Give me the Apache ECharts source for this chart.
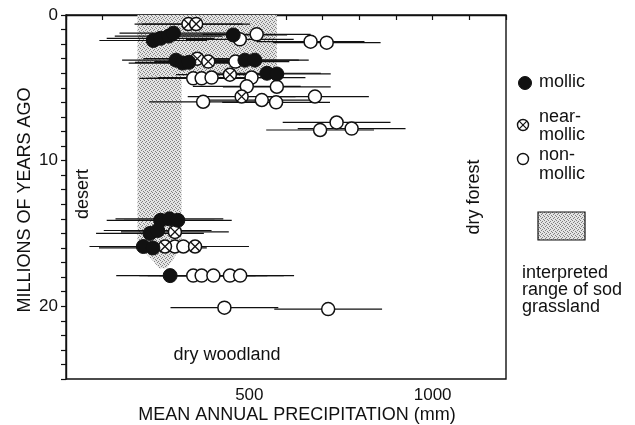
<!DOCTYPE html>
<html>
<head>
<meta charset="utf-8">
<script src="https://cdn.jsdelivr.net/npm/echarts@6/dist/echarts.min.js"></script>
<style>
  html, body { margin: 0; padding: 0; background: #fff; }
  #chart { width: 635px; height: 425px; }
</style>
</head>
<body>
<div id="chart"></div>
<script>
// ---- Data (mean annual precipitation in mm, age in millions of years) ----
const mollicX = [238, 258, 280, 293, 456, 300, 318, 335, 488, 515, 548, 575, 258, 282, 305, 229, 250, 211, 237, 284];
const mollicY = [1.75, 1.6, 1.45, 1.25, 1.37, 3.1, 3.3, 3.25, 3.1, 3.1, 4.0, 4.05, 14.1, 14.0, 14.1, 15.0, 14.8, 15.9, 16.0, 17.9];

const nearX = [334, 355, 358, 388, 447, 479, 297, 270, 352];
const nearY = [0.62, 0.62, 3.0, 3.2, 4.1, 5.6, 14.9, 15.9, 15.9];

const nonX = [474, 520, 667, 711, 462, 347, 370, 397, 506, 493, 575, 374, 534, 573, 679, 738, 693, 779, 297, 320, 347, 370, 402, 447, 475, 432, 715];
const nonY = [1.67, 1.33, 1.83, 1.9, 3.2, 4.35, 4.35, 4.3, 4.3, 4.9, 4.93, 5.96, 5.84, 6.0, 5.6, 7.38, 7.9, 7.8, 15.9, 15.9, 17.9, 17.9, 17.9, 17.9, 17.9, 20.1, 20.2];

// half-width of each precipitation error bar (mm)
const errorHalfWidth = 147;

// interpreted range of sod grassland (polygon vertices)
const shadeX = [195, 575, 575, 315, 315, 292, 274, 255, 234, 195];
const shadeY = [0, 0, 4.2, 4.2, 15.8, 16.8, 17.4, 17.4, 16.8, 15.8];

const xTickLabels = [500, 1000];
const yTickLabels = [0, 10, 20];

// ---- Build ----
const FONT = "'Liberation Sans', Arial, Helvetica, sans-serif";
const INK = '#111';

function zip(xs, ys) { return xs.map((x, i) => [x, ys[i]]); }
const mollic = zip(mollicX, mollicY);
const near = zip(nearX, nearY);
const non = zip(nonX, nonY);
const allPts = mollic.concat(near, non);

function stipple() {
  const c = document.createElement('canvas');
  c.width = 4; c.height = 4;
  const g = c.getContext('2d');
  g.fillStyle = '#e4e4e4'; g.fillRect(0, 0, 4, 4);
  g.fillStyle = '#808080';
  [[0,0],[2,1],[1,2],[3,3]].forEach(p => g.fillRect(p[0], p[1], 1, 1));
  return c;
}
const stippleCanvas = stipple();

const chart = echarts.init(document.getElementById('chart'), null, { renderer: 'canvas' });

const option = {
  animation: false,
  backgroundColor: '#fff',
  grid: { left: 66, right: 129, top: 15, bottom: 46, show: true, borderColor: INK, borderWidth: 1.4, backgroundColor: 'transparent' },
  xAxis: {
    type: 'value', min: 0, max: 1200, interval: 100,
    axisLine: { show: true, lineStyle: { color: INK, width: 1.4 } },
    axisTick: { show: true, length: 5, lineStyle: { color: INK, width: 1.2 } },
    splitLine: { show: false },
    axisLabel: {
      color: INK, fontSize: 17, fontFamily: FONT, margin: 8,
      formatter: v => xTickLabels.includes(v) ? String(v) : ''
    }
  },
  yAxis: {
    type: 'value', min: 0, max: 25, interval: 1, inverse: true,
    axisLine: { show: true, lineStyle: { color: INK, width: 1.4 } },
    axisTick: { show: true, length: 5, lineStyle: { color: INK, width: 1.2 } },
    splitLine: { show: false },
    axisLabel: {
      color: INK, fontSize: 17, fontFamily: FONT, margin: 8,
      formatter: v => yTickLabels.includes(v) ? String(v) : ''
    }
  },
  series: [
    {
      type: 'custom', name: 'sod grassland', z: 1, silent: true,
      data: [[0, 0]],
      renderItem: function (params, api) {
        const pts = shadeX.map((x, i) => api.coord([x, shadeY[i]]));
        return { type: 'polygon', shape: { points: pts }, style: { fill: { image: stippleCanvas, repeat: 'repeat' }, stroke: null } };
      }
    },
    {
      type: 'custom', name: 'error bars', z: 2, silent: true,
      data: allPts,
      renderItem: function (params, api) {
        const x = api.value(0), y = api.value(1);
        const a = api.coord([x - errorHalfWidth, y]);
        const b = api.coord([x + errorHalfWidth, y]);
        return { type: 'line', shape: { x1: a[0], y1: a[1], x2: b[0], y2: b[1] }, style: { stroke: INK, lineWidth: 1.2 } };
      }
    },
    {
      type: 'scatter', name: 'non-mollic', z: 3, data: non, symbol: 'circle', symbolSize: 13,
      itemStyle: { color: '#fff', borderColor: INK, borderWidth: 1.5, opacity: 1 }
    },
    {
      type: 'custom', name: 'near-mollic', z: 4, data: near,
      renderItem: function (params, api) {
        const p = api.coord([api.value(0), api.value(1)]);
        const r = 6.5, d = r * 0.7;
        return { type: 'group', children: [
          { type: 'circle', shape: { cx: p[0], cy: p[1], r: r }, style: { fill: '#fff', stroke: INK, lineWidth: 1.5 } },
          { type: 'line', shape: { x1: p[0]-d, y1: p[1]-d, x2: p[0]+d, y2: p[1]+d }, style: { stroke: INK, lineWidth: 1.3 } },
          { type: 'line', shape: { x1: p[0]-d, y1: p[1]+d, x2: p[0]+d, y2: p[1]-d }, style: { stroke: INK, lineWidth: 1.3 } }
        ] };
      }
    },
    {
      type: 'scatter', name: 'mollic', z: 5, data: mollic, symbol: 'circle', symbolSize: 14,
      itemStyle: { color: INK, borderColor: INK, borderWidth: 1, opacity: 1 }
    }
  ],
  graphic: [
    // axis titles
    { type: 'text', x: 297, y: 415, style: { text: 'MEAN ANNUAL PRECIPITATION (mm)', font: '18px ' + FONT, fill: INK, textAlign: 'center', textVerticalAlign: 'middle' } },
    { type: 'text', x: 25, y: 200, rotation: Math.PI / 2, style: { text: 'MILLIONS OF YEARS AGO', font: '18px ' + FONT, fill: INK, textAlign: 'center', textVerticalAlign: 'middle' } },
    // region annotations
    { type: 'text', x: 83, y: 194, rotation: Math.PI / 2, style: { text: 'desert', font: '18px ' + FONT, fill: INK, textAlign: 'center', textVerticalAlign: 'middle' } },
    { type: 'text', x: 474, y: 197, rotation: Math.PI / 2, style: { text: 'dry forest', font: '18px ' + FONT, fill: INK, textAlign: 'center', textVerticalAlign: 'middle' } },
    { type: 'text', x: 227, y: 355, style: { text: 'dry woodland', font: '18px ' + FONT, fill: INK, textAlign: 'center', textVerticalAlign: 'middle' } },
    // legend
    { type: 'circle', shape: { cx: 525, cy: 83, r: 6.5 }, style: { fill: INK, stroke: INK } },
    { type: 'text', x: 539, y: 82, style: { text: 'mollic', font: '18px ' + FONT, fill: INK, textVerticalAlign: 'middle' } },
    { type: 'circle', shape: { cx: 523, cy: 125, r: 5.5 }, style: { fill: '#fff', stroke: INK, lineWidth: 1.4 } },
    { type: 'line', shape: { x1: 519.2, y1: 121.2, x2: 526.8, y2: 128.8 }, style: { stroke: INK, lineWidth: 1.2 } },
    { type: 'line', shape: { x1: 519.2, y1: 128.8, x2: 526.8, y2: 121.2 }, style: { stroke: INK, lineWidth: 1.2 } },
    { type: 'text', x: 539, y: 117, style: { text: 'near-', font: '18px ' + FONT, fill: INK, textVerticalAlign: 'middle' } },
    { type: 'text', x: 539, y: 135, style: { text: 'mollic', font: '18px ' + FONT, fill: INK, textVerticalAlign: 'middle' } },
    { type: 'circle', shape: { cx: 523, cy: 159, r: 5.5 }, style: { fill: '#fff', stroke: INK, lineWidth: 1.4 } },
    { type: 'text', x: 539, y: 155, style: { text: 'non-', font: '18px ' + FONT, fill: INK, textVerticalAlign: 'middle' } },
    { type: 'text', x: 539, y: 174, style: { text: 'mollic', font: '18px ' + FONT, fill: INK, textVerticalAlign: 'middle' } },
    { type: 'rect', shape: { x: 538, y: 212, width: 47, height: 28 }, style: { fill: { image: stippleCanvas, repeat: 'repeat' }, stroke: INK, lineWidth: 1.2 } },
    { type: 'text', x: 522, y: 273, style: { text: 'interpreted', font: '18px ' + FONT, fill: INK, textVerticalAlign: 'middle' } },
    { type: 'text', x: 522, y: 290, style: { text: 'range of sod', font: '18px ' + FONT, fill: INK, textVerticalAlign: 'middle' } },
    { type: 'text', x: 522, y: 307, style: { text: 'grassland', font: '18px ' + FONT, fill: INK, textVerticalAlign: 'middle' } }
  ]
};
chart.setOption(option);
</script>
</body>
</html>
